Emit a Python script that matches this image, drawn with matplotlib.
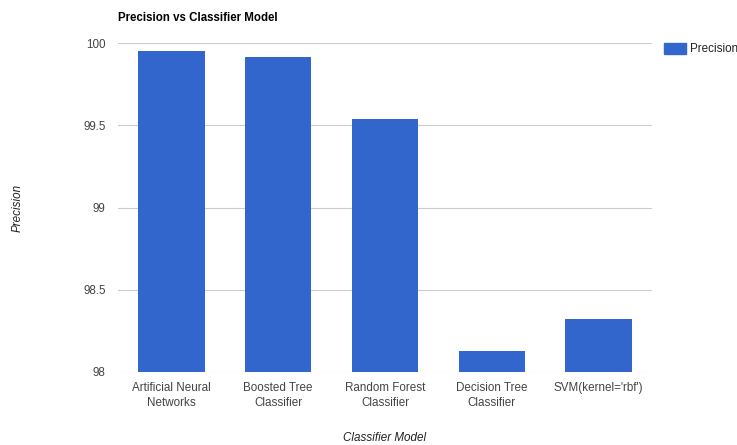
import matplotlib
matplotlib.use("Agg")
import matplotlib.pyplot as plt
import matplotlib.patches as mpatches

# --- data ---
models = ["Artificial Neural\nNetworks", "Boosted Tree\nClassifier", "Random Forest\nClassifier",
          "Decision Tree\nClassifier", "SVM(kernel='rbf')"]
precision = [99.95, 99.915, 99.54, 98.13, 98.32]
yticks = [98, 98.5, 99, 99.5, 100]
ytick_labels = ["98", "98.5", "99", "99.5", "100"]

plt.rcParams["font.family"] = ["Liberation Sans", "DejaVu Sans"]

W, H = 737, 445
fig = plt.figure(figsize=(W / 100, H / 100), dpi=100)
ax = fig.add_axes([118 / W, 73 / H, 534 / W, 329 / H])

x = range(len(models))
ax.bar(x, precision, width=0.62, color="#3366cc", zorder=3)

ax.set_xlim(-0.5, len(models) - 0.5)
ax.set_ylim(98, 100)
ax.set_yticks(yticks)
ax.set_yticklabels(ytick_labels)
ax.set_xticks(list(x))
ax.set_xticklabels(models, linespacing=1.35)
ax.tick_params(axis="both", length=0, labelsize=8.4, labelcolor="#444444")
ax.tick_params(axis="y", pad=9)
ax.tick_params(axis="x", pad=7)

ax.grid(axis="y", color="#cccccc", linewidth=0.8, zorder=0)
for s in ax.spines.values():
    s.set_visible(False)

# axis titles placed in figure pixels
fig.text(385 / W, 1 - 438 / H, "Classifier Model", fontsize=8.4, style="italic",
         color="#222222", ha="center", va="center")
fig.text(18 / W, 1 - 208 / H, "Precision", fontsize=8.4, style="italic",
         color="#222222", ha="center", va="center", rotation=90)

fig.text(118 / W, 1 - 18 / H, "Precision vs Classifier Model", fontsize=8.3,
         fontweight="bold", color="#000000", va="center", ha="left")

# legend on the right, cut off by the figure edge as in the original
fig.patches.append(mpatches.Rectangle((664 / W, 1 - 54 / H), 22 / W, 11 / H,
                                      transform=fig.transFigure, color="#3366cc"))
fig.text(690 / W, 1 - 48.5 / H, "Precision", fontsize=8.4, color="#222222",
         va="center", ha="left")

fig.savefig("out.png", dpi=100)
